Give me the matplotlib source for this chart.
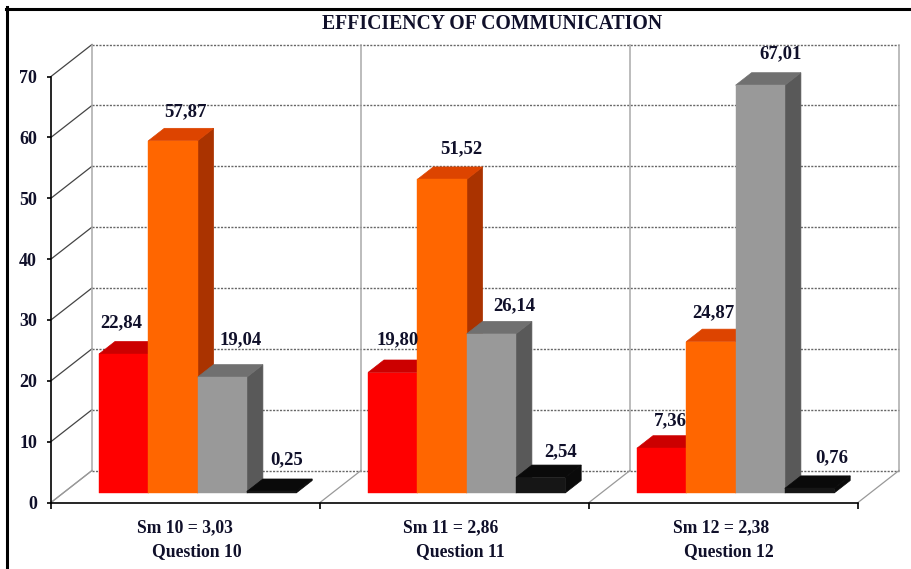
#!/usr/bin/env python3
# -*- coding: utf-8 -*-

import matplotlib
matplotlib.use('Agg')
import matplotlib.pyplot as plt
from matplotlib.patches import Polygon

plt.rcParams['font.family'] = ['Liberation Serif', 'DejaVu Serif']
plt.rcParams['font.weight'] = 'bold'

title = 'EFFICIENCY OF COMMUNICATION'
sm_labels = ['Sm 10 = 3,03', 'Sm 11 = 2,86', 'Sm 12 = 2,38']
questions = ['Question 10', 'Question 11', 'Question 12']
y_ticks = [0, 10, 20, 30, 40, 50, 60, 70]

red_vals = [22.84, 19.80, 7.36]
orange_vals = [57.87, 51.52, 24.87]
gray_vals = [19.04, 26.14, 67.01]
black_vals = [0.25, 2.54, 0.76]
val_text = [['22,84', '19,80', '7,36'],
            ['57,87', '51,52', '24,87'],
            ['19,04', '26,14', '67,01'],
            ['0,25', '2,54', '0,76']]

W, H = 912, 569
px_x = 807 / 3.0      # pixels per group
px_y = 426 / 70.0     # pixels per value unit

# (front, top, side) colours
styles = [('#ff0000', '#cc0000', '#990000'),
          ('#ff6600', '#dd4400', '#aa3300'),
          ('#999999', '#707070', '#595959'),
          ('#161616', '#0a0a0a', '#0a0a0a')]

# label offsets from the top centre of each bar, pixels
lab_dx = [[-2, 5, 9], [12, 19, 2], [18, 23, 20], [15, 20, 22]]
lab_dy = [[31, 33, 27], [29, 31, 29], [37, 28, 31], [32, 26, 31]]

wall_dx, wall_dy = 41 / px_x, 32 / px_y
bar_dx, bar_dy = 16 / px_x, 12.5 / px_y
bar_x0 = 48 / px_x
bar_w = 49.3 / px_x
bar_base = 9.5 / px_y

fig = plt.figure(figsize=(W / 100, H / 100), dpi=100)
ax = fig.add_axes([51 / W, (H - 502.5) / H, 807 / W, 426 / H])
ax.set_xlim(0, 3)
ax.set_ylim(0, 70)
ax.patch.set_visible(False)
ax.spines['top'].set_visible(False)
ax.spines['right'].set_visible(False)
ax.spines['left'].set_linewidth(1.2)
ax.spines['bottom'].set_linewidth(1.2)
ax.set_xticks([0, 1, 2, 3])
ax.set_xticklabels([])
ax.set_yticks(y_ticks)
ax.tick_params(axis='x', length=4.5, width=1.2)
ax.tick_params(axis='y', length=3, width=1.2, labelsize=13, labelcolor='#10102a', pad=7)

# back wall and side wall
for v in y_ticks:
    ax.plot([wall_dx, 3 + wall_dx], [v + wall_dy, v + wall_dy], color='#666666',
            lw=1.0, ls=(0, (1.5, 1)), clip_on=False, zorder=1)
    ax.plot([0, wall_dx], [v, v + wall_dy], color='#444444' if v else '#999999',
            lw=0.9, clip_on=False, zorder=1)
for g in range(4):
    ax.plot([g + wall_dx, g + wall_dx], [wall_dy, 70 + wall_dy], color='#aaaaaa',
            lw=1.1, clip_on=False, zorder=1)
    ax.plot([g, g + wall_dx], [0, wall_dy], color='#999999', lw=0.9, clip_on=False, zorder=1)

all_vals = [red_vals, orange_vals, gray_vals, black_vals]
for g in range(3):
    for s in range(4):
        v = all_vals[s][g]
        c_front, c_top, c_side = styles[s]
        x0 = g + bar_x0 + s * bar_w
        x1 = x0 + bar_w
        y0 = bar_base
        y1 = bar_base + v
        side = [(x1, y0), (x1 + bar_dx, y0 + bar_dy), (x1 + bar_dx, y1 + bar_dy), (x1, y1)]
        top = [(x0, y1), (x1, y1), (x1 + bar_dx, y1 + bar_dy), (x0 + bar_dx, y1 + bar_dy)]
        front = [(x0, y0), (x1, y0), (x1, y1), (x0, y1)]
        z = 3 + s
        ax.add_patch(Polygon(side, fc=c_side, ec=c_side, lw=0.5, clip_on=False, zorder=z))
        ax.add_patch(Polygon(top, fc=c_top, ec=c_top, lw=0.5, clip_on=False, zorder=z))
        ax.add_patch(Polygon(front, fc=c_front, ec=c_front, lw=0.3, clip_on=False, zorder=z))
        ax.annotate(val_text[s][g], xy=((x0 + x1) / 2, y1),
                    xytext=(lab_dx[s][g], lab_dy[s][g]), textcoords='offset pixels',
                    ha='center', va='center', fontsize=13.5, color='#10102a', zorder=10,
                    annotation_clip=False)

# group labels
sm_x = [185, 451, 721]
q_x = [197, 460, 729]
for i in range(3):
    fig.text(sm_x[i] / W, 1 - 528 / H, sm_labels[i], ha='center', va='center',
             fontsize=12.7, color='#10102a')
    fig.text(q_x[i] / W, 1 - 552 / H, questions[i], ha='center', va='center',
             fontsize=12.7, color='#10102a')

fig.text(492 / W, 1 - 24 / H, title, ha='center', va='center', fontsize=14.2,
         color='#10102a')

# frame, only top and left show
fig.add_artist(plt.Line2D([7.5 / W, 7.5 / W], [0, 1 - 7 / H], color='black', lw=2.2,
                          solid_capstyle='projecting'))
fig.add_artist(plt.Line2D([6 / W, 1], [1 - 8.5 / H, 1 - 8.5 / H], color='black', lw=2.2))

plt.savefig('out.png', dpi=100)
